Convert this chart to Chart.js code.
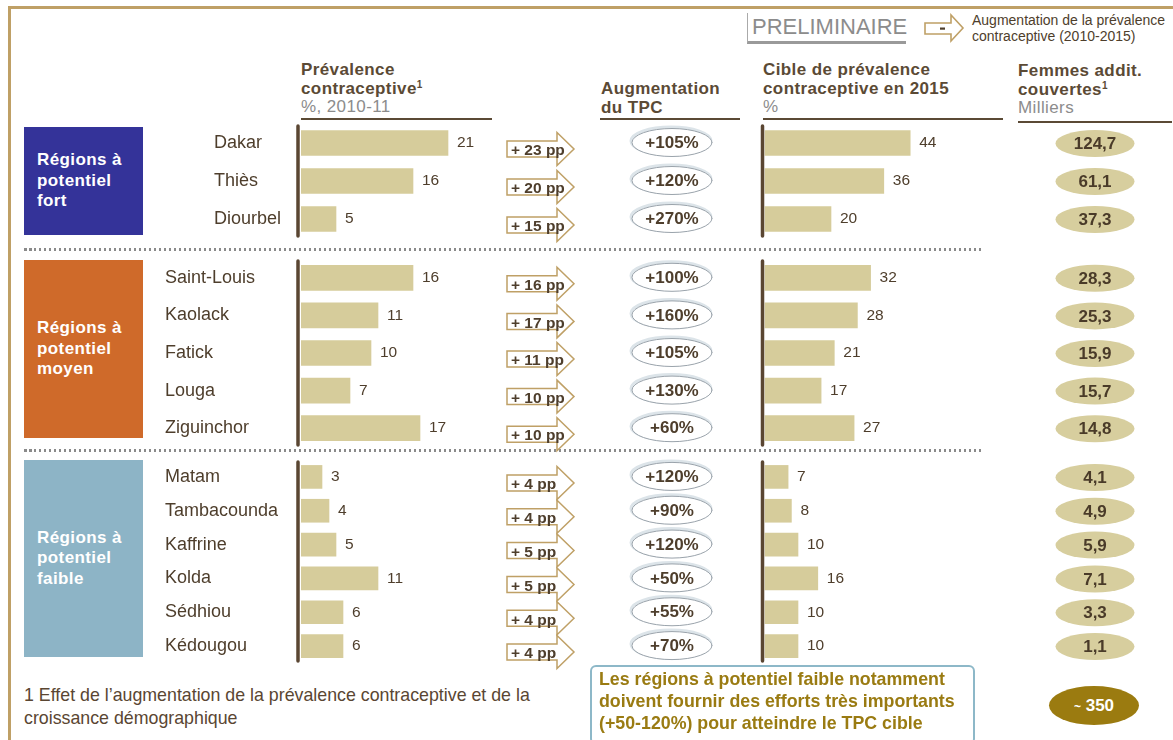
<!DOCTYPE html>
<html lang="fr">
<head>
<meta charset="UTF-8">
<title>Prévalence contraceptive par région</title>
<script src="https://cdn.jsdelivr.net/npm/chart.js"></script>
<style>
    body { margin: 0; background: #fff; font-family: 'Liberation Sans', Arial, sans-serif; }
    #page { position: relative; width: 1173px; height: 740px; overflow: hidden; }
    .abs { position: absolute; }
    .frameTop { left: 8px; top: 6px; width: 1165px; height: 3px; background: #BFA066; }
    .frameLeft { left: 8px; top: 6px; width: 3px; height: 734px; background: #BFA066; }

    .prelim { left: 747px; top: 13px; width: 154px; height: 28px; border-left: 1px solid #aaa;
              border-bottom: 3px solid #9a9a9a; color: #8c8c8c; font-size: 22px; line-height: 28px; padding-left: 4px; }
    .legendText { left: 972px; top: 12px; font-size: 14px; line-height: 16px; color: #4E3E2C; }

    .head { color: #5B4A35; font-weight: bold; font-size: 17px; line-height: 18.5px; letter-spacing: 0.4px; }
    .head sup { font-size: 10px; vertical-align: 6px; line-height: 0; }
    .head .sub { color: #8c8c8c; font-weight: normal; }
    .rule { height: 2px; background: #5B4A35; }

    .box { left: 24px; width: 119px; color: #fff; font-weight: bold; font-size: 17px; line-height: 20.5px;
           display: flex; align-items: center; padding-left: 13px; box-sizing: border-box; letter-spacing: 0.4px; }
    .dots { left: 24px; width: 958px; height: 2.5px;
            background: repeating-linear-gradient(90deg, #8a8a8a 0 2.5px, transparent 2.5px 5px); }

    .foot { left: 24px; top: 684px; font-size: 17.8px; line-height: 23px; color: #5A4632; }
    .note { left: 590px; top: 665px; width: 385px; height: 80px; box-sizing: border-box; border: 2px solid #8DB8C8;
            border-radius: 6px; padding: 1px 0 0 7px; color: #9A7B12; font-weight: bold; font-size: 17.8px; line-height: 22px; }
    .total { left: 1049px; top: 686px; width: 90px; height: 39px; border-radius: 50%; background: #9B7B10;
             color: #fff; font-weight: bold; font-size: 17px; line-height: 39px; text-align: center; }
    .total small { font-size: 12px; }
    canvas { position: absolute; }
</style>
</head>
<body>
<div id="page">
    <div class="abs frameTop"></div>
    <div class="abs frameLeft"></div>

    <div class="abs prelim">PRELIMINAIRE</div>
    <svg class="abs" style="left:922px;top:13px" width="46" height="32">
        <polygon points="3,10 29,10 29,2 41,15 29,28 29,21 3,21" fill="#fff" stroke="#BFA066" stroke-width="1.6"/>
        <rect x="18" y="14.5" width="5" height="2.2" fill="#4E3E2C"/>
    </svg>
    <div class="abs legendText">Augmentation de la prévalence<br>contraceptive (2010-2015)</div>

    <div class="abs head" style="left:301px;top:61px">Prévalence<br>contraceptive<sup>1</sup><br><span class="sub">%, 2010-11</span></div>
    <div class="abs rule" style="left:301px;top:118px;width:191px"></div>
    <div class="abs head" style="left:601px;top:80px">Augmentation<br>du TPC</div>
    <div class="abs rule" style="left:600px;top:118px;width:140px"></div>
    <div class="abs head" style="left:763px;top:61px">Cible de prévalence<br>contraceptive en 2015<br><span class="sub">%</span></div>
    <div class="abs rule" style="left:763px;top:118px;width:240px"></div>
    <div class="abs head" style="left:1018px;top:62px">Femmes addit.<br>couvertes<sup>1</sup><br><span class="sub">Milliers</span></div>
    <div class="abs rule" style="left:1018px;top:121px;width:154px"></div>

    <div class="abs box" style="top:127px;height:108px;background:#343399">Régions à<br>potentiel<br>fort</div>
    <div class="abs box" style="top:260px;height:178px;background:#CF6A2A">Régions à<br>potentiel<br>moyen</div>
    <div class="abs box" style="top:460px;height:197px;background:#8DB4C6">Régions à<br>potentiel<br>faible</div>

    <div class="abs dots" style="top:248px"></div>
    <div class="abs dots" style="top:449px"></div>

    <canvas id="g1"></canvas>
    <canvas id="g2"></canvas>
    <canvas id="g3"></canvas>

    <div class="abs foot">1 Effet de l’augmentation de la prévalence contraceptive et de la<br>croissance démographique</div>
    <div class="abs note">Les régions à potentiel faible notamment<br>doivent fournir des efforts très importants<br>(+50-120%) pour atteindre le TPC cible</div>
    <div class="abs total"><small>~</small> 350</div>
</div>

<script>
    const regions = ['Dakar', 'Thiès', 'Diourbel', 'Saint-Louis', 'Kaolack', 'Fatick', 'Louga', 'Ziguinchor',
        'Matam', 'Tambacounda', 'Kaffrine', 'Kolda', 'Sédhiou', 'Kédougou'];
    const prevalence2010 = [21, 16, 5, 16, 11, 10, 7, 17, 3, 4, 5, 11, 6, 6];
    const increasePP = [23, 20, 15, 16, 17, 11, 10, 10, 4, 4, 5, 5, 4, 4];
    const increaseTPC = [105, 120, 270, 100, 160, 105, 130, 60, 120, 90, 120, 50, 55, 70];
    const target2015 = [44, 36, 20, 32, 28, 21, 17, 27, 7, 8, 10, 16, 10, 10];
    const womenAdded = [124.7, 61.1, 37.3, 28.3, 25.3, 15.9, 15.7, 14.8, 4.1, 4.9, 5.9, 7.1, 3.3, 1.1];
    const groupSizes = [3, 5, 6];

    const FONT = "'Liberation Sans', Arial, sans-serif";
    const TEXT = '#4E3E2C';
    const BAR = '#D6CC9B';
    const GOLD = '#BFA066';

    // layout of the page (pixels)
    const AXIS_L = 301, ZERO_R = 765, RIGHT = 1160, PAD = 14;
    const PX_L = 7, PX_R = 3.3;
    const groupLayout = [
        { id: 'g1', left: 214, top: 124, bottom: 238, bar: 25 },
        { id: 'g2', left: 165, top: 259, bottom: 447, bar: 25 },
        { id: 'g3', left: 165, top: 460, bottom: 663, bar: 23 }
    ];

    const fmt = v => v.toFixed(1).replace('.', ',');

    function drawArrow(ctx, x0, cy) {
        const bodyR = x0 + 50, tip = x0 + 67;
        ctx.beginPath();
        ctx.moveTo(x0, cy - 8);
        ctx.lineTo(bodyR, cy - 8);
        ctx.lineTo(bodyR, cy - 16.5);
        ctx.lineTo(tip, cy);
        ctx.lineTo(bodyR, cy + 16.5);
        ctx.lineTo(bodyR, cy + 8);
        ctx.lineTo(x0, cy + 8);
        ctx.closePath();
        ctx.fillStyle = '#fff';
        ctx.fill();
        ctx.strokeStyle = GOLD;
        ctx.lineWidth = 1.5;
        ctx.stroke();
    }

    const rowAnnotations = {
        id: 'rowAnnotations',
        afterDatasetsDraw(chart, args, opts) {
            const { ctx, chartArea } = chart;
            const off = opts.left, start = opts.start;
            const yScale = chart.scales.y;
            ctx.save();

            // axis lines
            ctx.strokeStyle = '#5A4632';
            ctx.lineWidth = 3.5;
            ctx.lineCap = 'round';
            [AXIS_L - 3, chart.scales.xr.getPixelForValue(0) + off - 2.5].forEach(px => {
                ctx.beginPath();
                ctx.moveTo(px - off, chartArea.top + 2);
                ctx.lineTo(px - off, chartArea.bottom - 2);
                ctx.stroke();
            });

            // value labels
            ctx.font = '15.5px ' + FONT;
            ctx.fillStyle = TEXT;
            ctx.textAlign = 'left';
            ctx.textBaseline = 'middle';
            [0, 1].forEach(di => {
                const ds = chart.data.datasets[di];
                chart.getDatasetMeta(di).data.forEach((bar, i) => {
                    ctx.fillText(ds.data[i], bar.x + 9, bar.y);
                });
            });

            chart.data.labels.forEach((lab, i) => {
                const cy = yScale.getPixelForValue(i);
                const k = start + i;

                // increase in points
                drawArrow(ctx, 507 - off, cy + 6);
                ctx.font = 'bold 15.5px ' + FONT;
                ctx.fillStyle = TEXT;
                ctx.textAlign = 'left';
                ctx.fillText('+ ' + increasePP[k] + ' pp', 511 - off, cy + 8);

                // relative increase
                const ox = 672 - off, oy = cy - 0.5;
                ctx.beginPath();
                ctx.ellipse(ox - 1, oy - 1.5, 40, 14, 0, 0, Math.PI * 2);
                ctx.strokeStyle = '#DCE4E9';
                ctx.lineWidth = 3;
                ctx.stroke();
                ctx.beginPath();
                ctx.ellipse(ox, oy, 40, 14, 0, 0, Math.PI * 2);
                ctx.fillStyle = '#fff';
                ctx.fill();
                ctx.strokeStyle = '#9AA3AB';
                ctx.lineWidth = 1;
                ctx.stroke();
                ctx.font = 'bold 17px ' + FONT;
                ctx.fillStyle = TEXT;
                ctx.textAlign = 'center';
                ctx.fillText('+' + increaseTPC[k] + '%', ox, oy + 1);

                // additional women
                const fx = 1095 - off;
                ctx.beginPath();
                ctx.ellipse(fx, cy + 0.5, 39.5, 13.5, 0, 0, Math.PI * 2);
                ctx.fillStyle = '#D7CE9E';
                ctx.fill();
                ctx.fillStyle = '#4A3B29';
                ctx.fillText(fmt(womenAdded[k]), fx, cy + 1.5);
            });
            ctx.restore();
        }
    };

    let start = 0;
    groupLayout.forEach((g, gi) => {
        const end = start + groupSizes[gi];
        const canvas = document.getElementById(g.id);
        canvas.width = 1173 - g.left;
        canvas.height = g.bottom - g.top + 2 * PAD;
        canvas.style.left = g.left + 'px';
        canvas.style.top = (g.top - PAD) + 'px';

        new Chart(canvas.getContext('2d'), {
            type: 'bar',
            data: {
                labels: regions.slice(start, end),
                datasets: [
                    { data: prevalence2010.slice(start, end), xAxisID: 'xl', backgroundColor: BAR,
                      barThickness: g.bar, grouped: false },
                    { data: target2015.slice(start, end), xAxisID: 'xr', backgroundColor: BAR,
                      barThickness: g.bar, grouped: false }
                ]
            },
            options: {
                indexAxis: 'y',
                responsive: false,
                animation: false,
                events: [],
                layout: { padding: { left: 0, right: 1173 - RIGHT, top: PAD, bottom: PAD } },
                plugins: {
                    legend: { display: false },
                    tooltip: { enabled: false },
                    rowAnnotations: { left: g.left, start: start }
                },
                scales: {
                    y: {
                        type: 'category',
                        grid: { display: false },
                        border: { display: false },
                        ticks: { crossAlign: 'far', color: TEXT, padding: 0, font: { size: 18, family: FONT } },
                        afterFit: s => { s.width = AXIS_L - g.left; }
                    },
                    xl: { type: 'linear', axis: 'x', display: false, min: 0, max: (RIGHT - AXIS_L) / PX_L },
                    xr: { type: 'linear', axis: 'x', display: false,
                          min: -(ZERO_R - AXIS_L) / PX_R, max: (RIGHT - ZERO_R) / PX_R }
                }
            },
            plugins: [rowAnnotations]
        });
        start = end;
    });
</script>
</body>
</html>
